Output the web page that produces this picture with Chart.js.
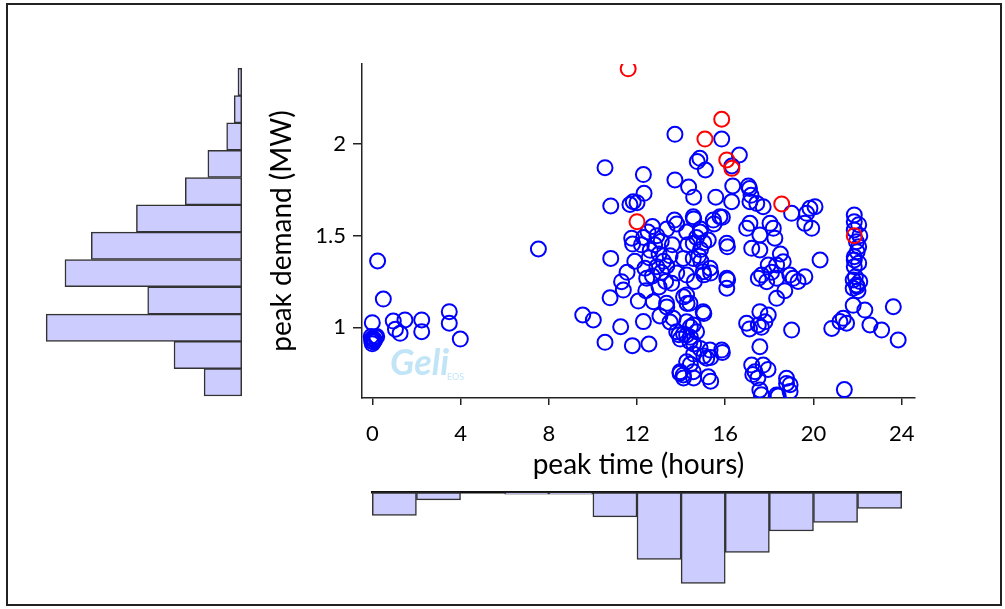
<!DOCTYPE html>
<html>
<head>
<meta charset="utf-8">
<script src="https://cdn.jsdelivr.net/npm/chart.js@4/dist/chart.umd.min.js"></script>
<style>
html, body { margin: 0; padding: 0; background: #fff; }
#wrap { position: relative; width: 1005px; height: 609px; overflow: hidden; }
#frame { position: absolute; left: 6px; top: 3px; width: 996px; height: 603px; box-sizing: border-box; border: 2px solid #222; }
canvas { position: absolute; left: 0; top: 0; }
</style>
</head>
<body>
<div id="wrap">
  <div id="frame"></div>
  <canvas id="leftHist" width="1005" height="609"></canvas>
  <canvas id="bottomHist" width="1005" height="609"></canvas>
  <canvas id="scatter" width="1005" height="609"></canvas>
</div>
<script>
// tick labels
var xTicks = [0, 4, 8, 12, 16, 20, 24];
var yTicks = [1, 1.5, 2];

// histogram of peak time, 2 hour bins
var timeBins = ["0-2","2-4","4-6","6-8","8-10","10-12","12-14","14-16","16-18","18-20","20-22","22-24"];
var timeCounts = [16, 5, 0, 1, 1, 17, 47, 64, 42, 27, 21, 11];

// histogram of peak demand, bottom bin first
var demandBins = ["0.62","0.77","0.92","1.07","1.22","1.37","1.52","1.67","1.82","1.97","2.12","2.26"];
var demandCounts = [10, 18, 52, 25, 47, 40, 28, 15, 9, 4, 2, 1];

// [peak time (h), peak demand (MW)]
var peakDays = [
  [11.6,2.41],[12.0,1.576],[15.08,2.027],[15.84,2.135],[16.07,1.913],[16.3,1.867],[18.56,1.673],[21.85,1.50]
];
var otherDays = [
  // 0-4 h
  [0.24,1.362],[0.5,1.154],[0,1.025],[0,0.94],[0.05,0.92],[-0.05,0.95],[0.1,0.93],[0.15,0.945],[0,0.91],
  [0.2,0.95],[0.05,0.935],[-0.03,0.925],[0.95,1.034],[1.48,1.04],[1.26,0.967],[1.05,0.99],
  [2.24,1.04],[2.24,0.976],[3.49,1.085],[3.49,1.022],[3.99,0.936],
  // 6-12 h
  [7.53,1.427],[9.54,1.067],
  [10.02,1.04],[10.55,1.871],[10.81,1.662],[10.81,1.376],[10.78,1.161],[10.55,0.918],[11.3,1.249],[11.38,1.203],
  [11.26,1.003],[11.79,0.9],[11.83,1.685],[11.68,1.67],[11.8,1.454],[11.76,1.486],[11.55,1.3],[11.9,1.36],
  // 12-14 h
  [12.29,1.833],[12.32,1.731],[12.0,1.68],[13.72,2.053],[13.72,1.804],[13.7,1.585],
  [12.06,1.143],[12.74,1.14],[13.34,1.131],[12.29,1.031],[13.04,1.062],[13.64,1.049],[12.54,0.909],[13.9,0.96],
  [13.95,0.749],[13.8,0.976],[13.95,0.758],[13.96,0.936],[13.5,1.029],[13.35,1.111],
  [12.36,1.322],[12.44,1.267],[12.3,1.49],[12.5,1.52],[12.7,1.55],[12.9,1.5],[13.1,1.47],[12.6,1.42],[12.8,1.45],
  [13.0,1.4],[13.2,1.36],[12.55,1.38],[12.9,1.33],[13.1,1.3],[12.7,1.28],[13.35,1.536],[13.8,1.564],[13.5,1.39],
  [13.35,1.335],[13.8,1.296],[13.57,1.24],[13.0,1.22],[12.4,1.2],[13.6,1.45],[13.3,1.25],[12.2,1.45],
  // 14-16 h
  [15.84,2.027],[14.85,1.922],[14.73,1.904],[15.1,1.858],[14.34,1.765],[14.57,1.71],[15.57,1.71],[14.55,1.603],
  [15.46,1.585],[15.76,1.603],[14.57,1.591],[14.88,1.536],[15.49,1.564],[15.87,1.6],[14.25,1.52],[14.86,1.52],
  [14.55,1.458],[15.23,1.476],[15.03,1.461],[14.88,1.424],[14.7,1.49],[14.8,1.39],[14.9,1.36],[14.1,1.376],
  [14.55,1.376],[15.0,1.303],[15.31,1.322],[14.25,1.285],[15.03,1.286],[15.34,1.296],[14.25,1.176],[14.4,1.131],
  [14.11,1.166],[14.27,1.13],[15.0,1.085],[15.03,1.075],[14.25,1.03],[14.55,1.013],[14.42,1.002],[14.25,0.958],
  [14.7,0.976],[14.4,0.921],[14.42,0.946],[14.57,0.909],[14.11,0.963],[14.86,0.885],[15.31,0.876],[15.84,0.876],
  [15.16,0.831],[14.57,0.854],[15.03,0.844],[15.87,0.863],[15.34,0.835],[14.25,0.812],[14.42,0.798],[14.55,0.758],
  [15.23,0.73],[14.1,0.74],[14.11,0.724],[14.57,0.724],[15.34,0.706],[14.3,1.45],[14.6,1.25],
  // 16-18 h
  [16.64,1.94],[16.3,1.88],[16.34,1.771],[17.05,1.771],[17.1,1.757],[17.17,1.72],[16.29,1.685],[17.12,1.685],
  [17.43,1.676],[17.72,1.658],[17.12,1.567],[16.97,1.54],[17.57,1.504],[16.07,1.458],[16.1,1.439],[17.2,1.431],
  [17.57,1.422],[17.95,1.34],[16.07,1.267],[16.07,1.213],[16.11,1.259],[17.5,1.267],[17.88,1.249],[17.65,1.285],
  [16.97,1.022],[17.57,1.085],[17.8,1.03],[17.95,1.067],[17.5,1.013],[17.57,0.894],[17.2,0.794],[17.72,0.794],
  [17.35,0.758],[17.57,0.658],[17.64,0.632],[17.25,0.742],[17.48,0.724],[17.94,0.77],[17.64,1.0],[17.1,0.991],
  // 18-20 h
  [19.01,1.622],[18.03,1.567],[18.18,1.54],[18.25,1.486],[18.33,1.34],[18.63,1.358],[18.93,1.285],[18.33,1.267],
  [19.08,1.267],[18.33,1.158],[19.01,0.985],[18.78,0.722],[18.78,0.694],[18.33,0.631],[19.84,1.649],[19.69,1.622],
  [19.61,1.567],[19.92,1.54],[19.61,1.276],[18.94,0.687],[18.94,0.65],[18.4,0.625],[18.5,1.4],[18.1,1.3],
  [18.7,1.2],[19.3,1.25],
  // 20-24 h
  [20.07,1.658],[20.3,1.367],[21.85,1.613],[21.85,1.576],[21.85,1.531],[21.95,1.467],[21.98,1.412],[21.85,1.385],
  [21.85,1.331],[21.9,1.276],[21.95,1.231],[21.98,1.222],[21.8,1.213],[21.8,1.258],[21.85,1.367],[21.8,1.12],
  [21.35,1.049],[21.2,1.031],[21.5,1.022],[20.83,0.994],[21.4,0.66],
  [22.33,1.094],[23.62,1.112],[22.56,1.013],[23.09,0.985],[23.84,0.931],[22.05,1.44],[22.05,1.35],[22.1,1.25],
  [22.05,1.56],[22.1,1.5],[22.02,1.2]
];

var xMin = -0.467, xMax = 24.603;
var yMin = 0.6143, yMax = 2.4364;

var fontFamily = "Lato, 'Open Sans', sans-serif";
var barFill = '#CCCCFF';
var barLine = '#333333';

function toXY(list) {
  return list.map(function (p) { return { x: p[0], y: p[1] }; });
}

// left histogram, bars grow to the left
new Chart(document.getElementById('leftHist'), {
  type: 'bar',
  data: {
    labels: demandBins,
    datasets: [{
      data: demandCounts,
      backgroundColor: barFill,
      borderColor: barLine,
      borderWidth: 1.5,
      borderSkipped: false,
      barPercentage: 1,
      categoryPercentage: 1,
      clip: false
    }]
  },
  options: {
    indexAxis: 'y',
    responsive: false,
    animation: false,
    layout: { padding: { left: 30, right: 763.3, top: 68.3, bottom: 213 } },
    plugins: { legend: { display: false }, tooltip: { enabled: false } },
    scales: {
      x: { display: false, min: 0, max: 56.3, reverse: true },
      y: { display: false, reverse: true }
    }
  }
});

// bottom histogram, bars hang down
new Chart(document.getElementById('bottomHist'), {
  type: 'bar',
  data: {
    labels: timeBins,
    datasets: [{
      data: timeCounts,
      backgroundColor: barFill,
      borderColor: barLine,
      borderWidth: 1.5,
      borderSkipped: false,
      barPercentage: 1,
      categoryPercentage: 1,
      clip: false
    }]
  },
  options: {
    responsive: false,
    animation: false,
    layout: { padding: { left: 372.3, right: 103.3, top: 492.7, bottom: 9 } },
    plugins: { legend: { display: false }, tooltip: { enabled: false } },
    scales: {
      x: {
        position: 'top',
        ticks: { display: false },
        grid: { display: false, drawTicks: false },
        border: { display: true, color: '#111', width: 2.5 }
      },
      y: { display: false, min: 0, max: 75.6, reverse: true }
    }
  }
});

var watermark = {
  id: 'watermark',
  beforeDatasetsDraw: function (chart) {
    var ctx = chart.ctx;
    ctx.save();
    ctx.fillStyle = 'rgba(160,215,242,0.65)';
    ctx.font = "italic bold 36px " + fontFamily;
    ctx.fillText('Geli', 390, 375);
    ctx.font = "9px " + fontFamily;
    ctx.fillText('EOS', 447, 380);
    ctx.restore();
  }
};

new Chart(document.getElementById('scatter'), {
  type: 'scatter',
  data: {
    datasets: [{
      data: toXY(peakDays),
      borderColor: '#FF0000',
      backgroundColor: 'rgba(0,0,0,0)',
      pointRadius: 7.5,
      borderWidth: 2
    }, {
      data: toXY(otherDays),
      borderColor: '#0000FF',
      backgroundColor: 'rgba(0,0,0,0)',
      pointRadius: 7.5,
      borderWidth: 2
    }]
  },
  options: {
    responsive: false,
    animation: false,
    layout: { padding: { left: 250, right: 90, top: 64, bottom: 111 } },
    plugins: { legend: { display: false }, tooltip: { enabled: false } },
    scales: {
      x: {
        type: 'linear',
        min: xMin,
        max: xMax,
        afterBuildTicks: function (s) { s.ticks = xTicks.map(function (v) { return { value: v }; }); },
        afterFit: function (s) { s.height = 100; },
        grid: { drawOnChartArea: false, drawTicks: true, tickLength: 7, color: '#222', lineWidth: 1.5 },
        border: { display: true, color: '#222', width: 1.5 },
        ticks: { padding: 16, color: '#000', font: { family: fontFamily, size: 22 },
                 callback: function (v) { return String(v); } },
        title: { display: true, text: 'peak time (hours)', color: '#000',
                 font: { family: fontFamily, size: 28 }, padding: { top: 0, bottom: 16 } }
      },
      y: {
        type: 'linear',
        min: yMin,
        max: yMax,
        afterBuildTicks: function (s) { s.ticks = yTicks.map(function (v) { return { value: v }; }); },
        afterFit: function (s) { s.width = 112; },
        grid: { drawOnChartArea: false, drawTicks: true, tickLength: 9, color: '#222', lineWidth: 1.5 },
        border: { display: true, color: '#222', width: 1.5 },
        ticks: { padding: 7, color: '#000', font: { family: fontFamily, size: 22 },
                 callback: function (v) { return String(v); } },
        title: { display: true, text: 'peak demand (MW)', color: '#000',
                 font: { family: fontFamily, size: 28 }, padding: { top: 15, bottom: 0 } }
      }
    }
  },
  plugins: [watermark]
});
</script>
</body>
</html>
